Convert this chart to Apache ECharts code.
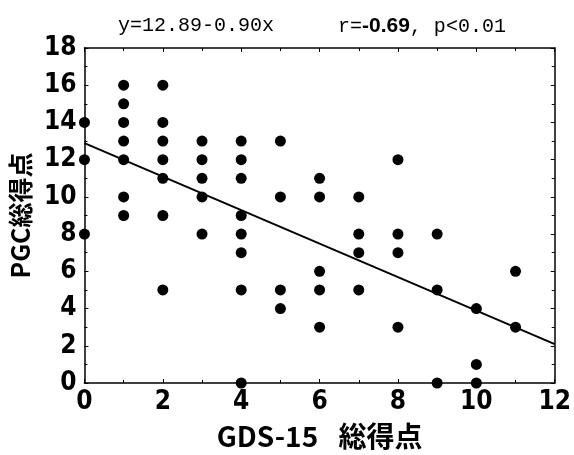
<!DOCTYPE html>
<html><head><meta charset="utf-8">
<script src="https://cdn.jsdelivr.net/npm/echarts@6/dist/echarts.min.js"></script>
<style>html,body{margin:0;padding:0;background:#fff}#c{width:574px;height:455px}</style>
</head><body><div id="c"></div>
<script>
const gdsX = [0,0,0, 1,1,1,1,1,1,1, 2,2,2,2,2,2,2, 3,3,3,3,3, 4,4,4,4,4,4,4,4, 5,5,5,5, 6,6,6,6,6, 7,7,7,7, 8,8,8,8, 9,9,9, 10,10,10, 11,11];
const pgcY = [14,12,8, 16,15,14,13,12,10,9, 16,14,13,12,11,9,5, 13,12,11,10,8, 13,12,11,9,8,7,5,0, 13,10,5,4, 11,10,6,5,3, 10,8,7,5, 12,8,7,3, 8,5,0, 4,1,0, 6,3];
const fitIntercept = 12.89, fitSlope = -0.90;
const fitX = [0, 12];
const xTicks = [0,2,4,6,8,10,12];
const yTicks = [0,2,4,6,8,10,12,14,16,18];

const points = gdsX.map((x,i)=>[x,pgcY[i]]);
const fitLine = fitX.map(x=>[x, fitIntercept + fitSlope*x]);
const numFont = '"DejaVu Sans Condensed", "Liberation Sans Narrow", sans-serif';
const jpFont = '"Noto Sans CJK JP", sans-serif';
const monoFont = '"Liberation Mono", "DejaVu Sans Mono", monospace';

const chart = echarts.init(document.getElementById('c'), null, {renderer:'canvas'});
const axisCommon = {
  axisLine:{show:true, onZero:false, lineStyle:{color:'#000', width:1.5}},
  axisTick:{show:true, inside:true, length:4, lineStyle:{color:'#000'}},
  minorTick:{show:true, splitNumber:2, length:3, lineStyle:{color:'#000'}},
  splitLine:{show:false}
};
chart.setOption({
  animation:false,
  backgroundColor:'#fff',
  grid:{left:80, right:17, top:48, bottom:67},
  xAxis:[
    Object.assign({type:'value', min:0, max:12, interval:2, position:'bottom',
      axisLabel:{color:'#000', fontFamily:numFont, fontWeight:'bold', fontSize:26, margin:6},
      name:'GDS-15\u2002 総得点', nameLocation:'middle', nameGap:39,
      nameTextStyle:{color:'#000', fontFamily:jpFont, fontWeight:'bold', fontSize:28}}, axisCommon),
    Object.assign({type:'value', min:0, max:12, interval:2, position:'top', axisLabel:{show:false}}, axisCommon)
  ],
  yAxis:[
    Object.assign({type:'value', min:0, max:18, interval:2, position:'left',
      axisLabel:{color:'#000', fontFamily:numFont, fontWeight:'bold', fontSize:26, margin:8},
      name:'PGC総得点', nameLocation:'middle', nameGap:43,
      nameTextStyle:{color:'#000', fontFamily:jpFont, fontWeight:'bold', fontSize:25}}, axisCommon),
    Object.assign({type:'value', min:0, max:18, interval:2, position:'right', axisLabel:{show:false}}, axisCommon)
  ],
  series:[
    {type:'scatter', data:points, symbol:'circle', symbolSize:11, clip:true,
     itemStyle:{color:'#000', opacity:1}, z:3},
    {type:'line', data:fitLine, symbol:'none', lineStyle:{color:'#000', width:2}, z:2}
  ],
  graphic:[
    {type:'text', left:118, top:16, style:{text:'y=12.89-0.90x', fill:'#000', font:'20px ' + monoFont}},
    {type:'text', left:338, top:16, style:{
      text:'{a|r=}{b|-0.69}{a|, p<0.01}',
      rich:{
        a:{fill:'#000', fontFamily:monoFont, fontSize:20},
        b:{fill:'#000', fontFamily:'"Liberation Sans", sans-serif', fontSize:21, fontWeight:'bold'}
      }}}
  ]
});
</script></body></html>
